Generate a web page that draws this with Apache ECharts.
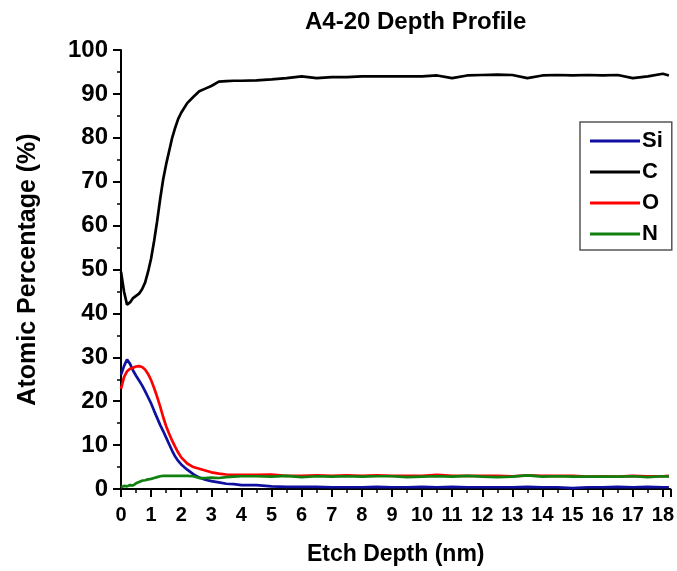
<!DOCTYPE html>
<html>
<head>
<meta charset="utf-8">
<script src="https://cdn.jsdelivr.net/npm/echarts@6/dist/echarts.min.js"></script>
<style>html,body{margin:0;padding:0;background:#fff}#c{width:677px;height:571px}</style>
</head>
<body>
<div id="c"></div>
<script>
const titleText = 'A4-20 Depth Profile';
const xName = 'Etch Depth (nm)';
const yName = 'Atomic Percentage (%)';
const seriesNames = ['Si', 'C', 'O', 'N'];
const depth = [0,0.1,0.2,0.3,0.4,0.5,0.6,0.7,0.8,0.9,1.0,1.1,1.2,1.3,1.4,1.5,1.6,1.7,1.8,1.9,2.0,2.2,2.4,2.6,2.8,3.0,3.25,3.5,3.75,4.0,4.5,5,5.5,6,6.5,7,7.5,8,8.5,9,9.5,10,10.5,11,11.5,12,12.5,13,13.5,14,14.5,15,15.5,16,16.5,17,17.5,18,18.2];
const si = [26.0,28.0,29.5,28.5,27.0,25.8,24.7,23.6,22.3,20.9,19.5,17.8,16.2,14.6,13.2,11.7,10.2,8.7,7.4,6.4,5.6,4.4,3.4,2.6,2.1,1.8,1.5,1.2,1.1,0.9,0.9,0.6,0.5,0.5,0.5,0.4,0.4,0.4,0.5,0.4,0.4,0.5,0.4,0.5,0.4,0.4,0.4,0.4,0.5,0.4,0.4,0.2,0.4,0.4,0.5,0.4,0.5,0.4,0.4];
const c = [49.5,45.0,42.0,42.5,43.5,44.0,44.5,45.5,47.0,49.5,52.5,56.5,61.0,66.0,70.5,74.0,77.0,80.0,82.3,84.3,85.7,87.9,89.3,90.6,91.2,91.8,92.8,92.9,93.0,93.0,93.1,93.3,93.6,94.0,93.6,93.8,93.8,94.0,94.0,94.0,94.0,94.0,94.2,93.6,94.2,94.3,94.4,94.3,93.6,94.2,94.3,94.2,94.3,94.2,94.3,93.6,94.0,94.6,94.2];
const o = [22.8,25.5,26.8,27.4,27.6,27.9,28.0,27.8,27.2,26.2,24.8,23.0,21.0,18.8,16.4,14.3,12.6,11.0,9.6,8.3,7.2,5.8,5.0,4.6,4.2,3.8,3.5,3.3,3.2,3.2,3.2,3.3,3.0,3.0,3.1,3.0,3.1,3.0,3.1,3.0,3.0,3.0,3.2,3.0,3.0,3.0,3.0,2.9,3.1,3.0,3.0,3.0,2.8,2.9,2.8,3.0,2.9,2.9,3.0];
const n = [0.4,0.7,0.6,0.9,0.8,1.3,1.6,1.9,2.0,2.2,2.3,2.5,2.7,2.9,3.0,3.0,3.0,3.0,3.0,3.0,3.0,3.0,2.9,2.5,2.5,2.6,2.5,2.7,2.8,2.9,2.9,2.8,3.0,2.7,2.9,2.8,2.9,2.8,2.9,2.9,2.7,2.8,2.9,2.8,3.0,2.8,2.7,2.8,3.1,2.8,2.9,2.8,2.8,2.8,2.8,2.9,2.7,2.9,2.8];
const colors = ['#1010a0', '#000000', '#ff0000', '#108010'];

const FONT = 'Liberation Sans';
const values = [si, c, o, n];
const chart = echarts.init(document.getElementById('c'), null, {renderer: 'canvas'});
chart.setOption({
  animation: false,
  backgroundColor: '#ffffff',
  title: {
    text: titleText, left: 300, top: 5,
    textStyle: {fontFamily: FONT, fontSize: 24, fontWeight: 'bold', color: '#000'}
  },
  legend: {
    orient: 'vertical', left: 580, top: 122,
    data: seriesNames.map((nm, i) => ({name: nm, icon: 'rect', itemStyle: {color: colors[i]}})),
    itemWidth: 50, itemHeight: 3, itemGap: 9,
    padding: [8, 9, 5, 10],
    borderColor: '#555', borderWidth: 1.5,
    textStyle: {fontFamily: FONT, fontSize: 22, fontWeight: 'bold', color: '#000', lineHeight: 22, padding: [0,0,0,-3]}
  },
  grid: {left: 121, right: 4, top: 50, bottom: 78, containLabel: false},
  xAxis: {
    type: 'value', min: 0, max: 18.25, interval: 1,
    name: xName, nameLocation: 'middle', nameGap: 54,
    nameTextStyle: {fontFamily: FONT, fontSize: 23, fontWeight: 'bold', color: '#000'},
    axisLine: {show: true, onZero: false, lineStyle: {color: '#000', width: 2}},
    axisTick: {show: true, length: 8, lineStyle: {color: '#000', width: 2}},
    minorTick: {show: true, splitNumber: 2, length: 4, lineStyle: {color: '#000', width: 1.5}},
    splitLine: {show: false},
    axisLabel: {fontFamily: FONT, fontSize: 20, fontWeight: 'bold', color: '#000', margin: 16,
      formatter: v => (Math.abs(v - Math.round(v)) < 1e-9 ? String(Math.round(v)) : '')}
  },
  yAxis: {
    type: 'value', min: 0, max: 100, interval: 10,
    name: yName, nameLocation: 'middle', nameGap: 80,
    nameTextStyle: {fontFamily: FONT, fontSize: 25, fontWeight: 'bold', color: '#000'},
    axisLine: {show: true, lineStyle: {color: '#000', width: 2}},
    axisTick: {show: true, length: 8, lineStyle: {color: '#000', width: 2}},
    minorTick: {show: true, splitNumber: 2, length: 4, lineStyle: {color: '#000', width: 1.5}},
    splitLine: {show: false},
    axisLabel: {fontFamily: FONT, fontSize: 24, fontWeight: 'bold', color: '#000', margin: 13}
  },
  series: seriesNames.map((nm, i) => ({
    name: nm, type: 'line', showSymbol: false, symbol: 'none', smooth: false,
    data: depth.map((d, k) => [d, values[i][k]]),
    lineStyle: {color: colors[i], width: 2.7},
    itemStyle: {color: colors[i]}
  }))
});
</script>
</body>
</html>
